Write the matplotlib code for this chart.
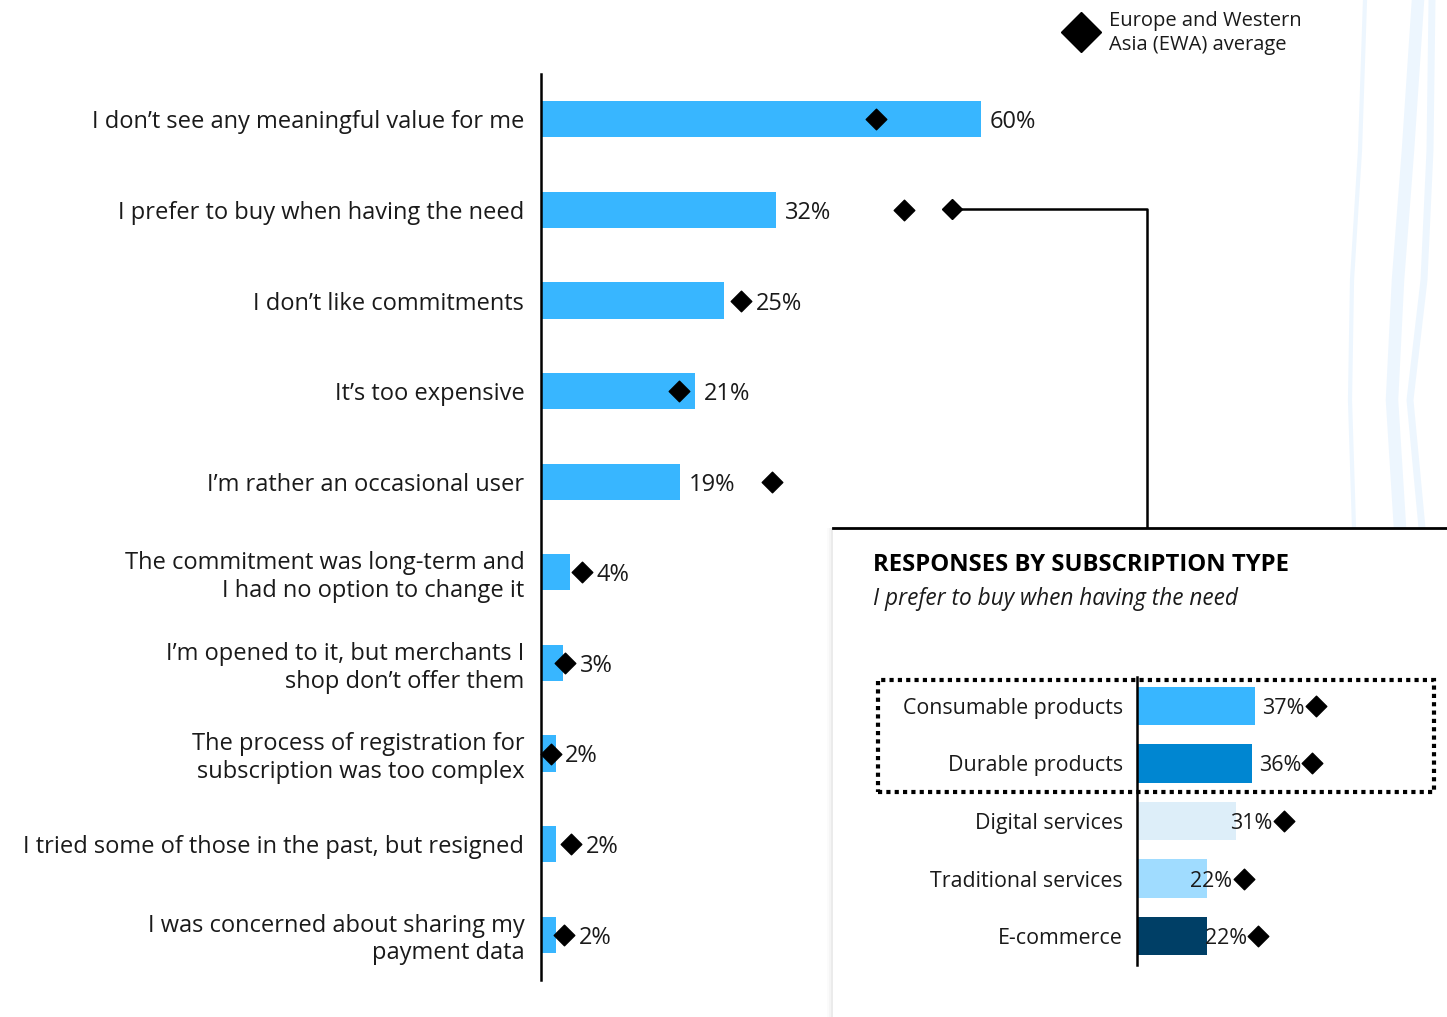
import numpy as np
import matplotlib.pyplot as plt
from matplotlib.patches import Rectangle
from matplotlib.lines import Line2D

plt.rcParams['font.family'] = ['Open Sans', 'DejaVu Sans']

reasons = [
    "I don\u2019t see any meaningful value for me",
    "I prefer to buy when having the need",
    "I don\u2019t like commitments",
    "It\u2019s too expensive",
    "I\u2019m rather an occasional user",
    "The commitment was long-term and\nI had no option to change it",
    "I\u2019m opened to it, but merchants I\nshop don\u2019t offer them",
    "The process of registration for\nsubscription was too complex",
    "I tried some of those in the past, but resigned",
    "I was concerned about sharing my\npayment data",
]
shares = [60, 32, 25, 21, 19, 4, 3, 2, 2, 2]
ewa_avg = [45.7, 49.5, 27.3, 18.8, 31.5, 5.6, 3.3, 1.4, 4.1, 3.1]

sub_types = ["Consumable products", "Durable products", "Digital services",
             "Traditional services", "E-commerce"]
sub_shares = [37, 36, 31, 22, 22]
sub_ewa = [56, 55, 46, 33.5, 38]
sub_colors = ["#38B6FF", "#0086D1", "#DDEEF9", "#A0DCFF", "#003F66"]

W, H = 1447, 1017
fig = plt.figure(figsize=(W / 100, H / 100), dpi=100)
txt = "#1a1a1a"

def fx(px):
    return px / W

def fy(py):
    return 1 - py / H

# faint decorative waves in the top right corner
for xs, lw in [([1365, 1360, 1352, 1350, 1354], 3),
               ([1418, 1408, 1398, 1392, 1400], 9),
               ([1432, 1430, 1424, 1410, 1422], 5)]:
    ys = [0, 150, 280, 400, 528]
    fig.add_artist(Line2D([fx(x) for x in xs], [fy(y) for y in ys],
                          color="#EDF6FE", lw=lw, zorder=0))

# main chart
ax = fig.add_axes([fx(541), fy(980), fx(W - 541), (980 - 74) / H])
y = np.arange(len(reasons))
ax.barh(y, shares, height=0.4, color="#38B6FF", zorder=2)
ax.scatter(ewa_avg, y, marker="D", s=110, color="black", zorder=3, clip_on=False)
for i, (v, e) in enumerate(zip(shares, ewa_avg)):
    lx = e + 2.0 if 0 < e - v < 4 else v + 1.2
    ax.text(lx, i, f"{v}%", va="center_baseline", ha="left", fontsize=17, color=txt)
ax.set_xlim(0, (W - 541) / 7.333)
ax.set_ylim(len(reasons) - 0.5, -0.5)
ax.set_yticks(y)
ax.set_yticklabels(reasons, fontsize=17, color=txt, ha="right",
                   multialignment="right", linespacing=1.2)
ax.tick_params(axis="y", length=0, pad=12)
ax.set_xticks([])
for s in ["top", "right", "bottom"]:
    ax.spines[s].set_visible(False)
ax.spines["left"].set_linewidth(1.8)
ax.patch.set_alpha(0)

# legend
fig.add_artist(Line2D([fx(1081)], [fy(32)], marker="D", markersize=20,
                      color="black", linestyle="none"))
fig.text(fx(1109), fy(33), "Europe and Western\nAsia (EWA) average",
         fontsize=14.5, color=txt, va="center", ha="left", linespacing=1.3)

# connector to the inset
fig.add_artist(Line2D([fx(952)], [fy(209)], marker="D", markersize=10,
                      color="black", linestyle="none"))
fig.add_artist(Line2D([fx(952), fx(1147), fx(1147)], [fy(209), fy(209), fy(527)],
                      color="black", lw=1.8))

# inset panel
for k, a in enumerate([0.04, 0.025, 0.015]):
    fig.add_artist(Rectangle((fx(833 - 2 * (k + 1)), 0), fx(W - 833), fy(528),
                             facecolor="black", alpha=a, edgecolor="none", zorder=1))
fig.add_artist(Rectangle((fx(833), 0), fx(W - 833), fy(528), facecolor="white",
                         edgecolor="none", zorder=1))
fig.add_artist(Line2D([fx(833), 1], [fy(528), fy(528)], color="black", lw=2, zorder=2))
fig.text(fx(873), fy(565), "RESPONSES BY SUBSCRIPTION TYPE", fontsize=17.2,
         fontweight="bold", color="black", va="center", zorder=3)
fig.text(fx(873), fy(599), "I prefer to buy when having the need", fontsize=16.3,
         style="italic", color=txt, va="center", zorder=3)

ax2 = fig.add_axes([fx(1137), fy(965), fx(W - 1137), (965 - 677) / H], zorder=4)
y2 = np.arange(len(sub_types))
ax2.barh(y2, sub_shares, height=0.67, color=sub_colors, zorder=2)
ax2.scatter(sub_ewa, y2, marker="D", s=110, color="black", zorder=3, clip_on=False)
for i, (v, e) in enumerate(zip(sub_shares, sub_ewa)):
    ax2.text(e - 3.6, i, f"{v}%", va="center_baseline", ha="right", fontsize=15.5,
             color=txt, zorder=4)
ax2.set_xlim(0, (W - 1137) / 3.19)
ax2.set_ylim(len(sub_types) - 0.5, -0.5)
ax2.set_yticks(y2)
ax2.set_yticklabels(sub_types, fontsize=15.4, color=txt)
ax2.tick_params(axis="y", length=0, pad=10)
ax2.set_xticks([])
for s in ["top", "right", "bottom"]:
    ax2.spines[s].set_visible(False)
ax2.spines["left"].set_linewidth(1.8)
ax2.patch.set_alpha(0)

fig.add_artist(Rectangle((fx(878), fy(792)), fx(1434 - 878), (792 - 680) / H,
                         facecolor="none", edgecolor="black", lw=3,
                         linestyle=(0, (1, 1)), zorder=5))

fig.savefig("out.png", dpi=100)
